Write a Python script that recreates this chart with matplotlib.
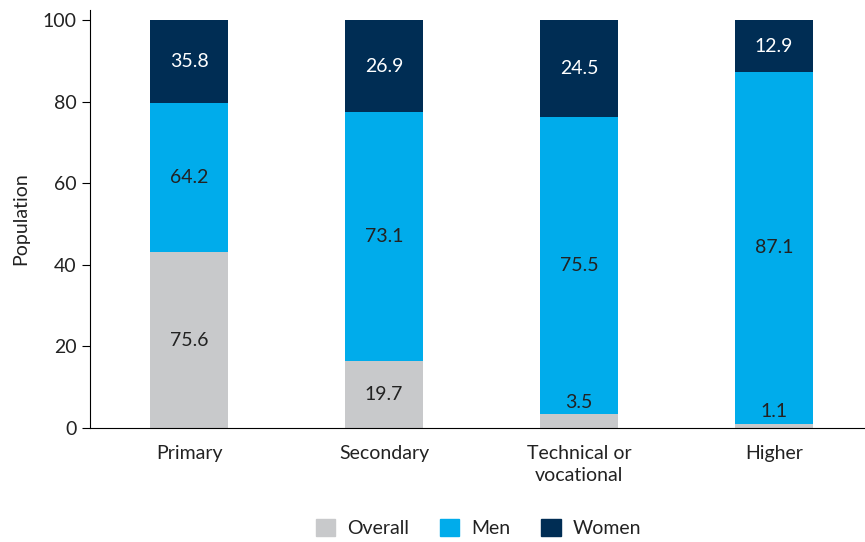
import numpy as np
import matplotlib
matplotlib.use("Agg")
import matplotlib.pyplot as plt
from matplotlib.patches import Patch

plt.rcParams.update({
    "font.family": ["Lato", "DejaVu Sans"],
    "font.weight": "normal",
    "font.size": 14,
    "text.color": "#222222",
    "axes.spines.top": False,
    "axes.spines.right": False,
})

categories = ["Primary", "Secondary", "Technical or\nvocational", "Higher"]
overall = [75.6, 19.7, 3.5, 1.1]
men = [64.2, 73.1, 75.5, 87.1]
women = [35.8, 26.9, 24.5, 12.9]
series_names = ["Overall", "Men", "Women"]
colors = ["#C8C9CB", "#00ACEB", "#002D54"]
text_colors = ["#222222", "#222222", "#FFFFFF"]

# bars are drawn as shares of each group's total, labels show the raw values
vals = np.array([overall, men, women])
shares = vals / vals.sum(axis=0) * 100

fig = plt.figure(figsize=(8.65, 5.42), dpi=100)
ax = fig.add_axes([90 / 865, 1 - 428 / 542, 775 / 865, 418 / 542])
x = np.arange(len(categories))
bottom = np.zeros(len(categories))
for i, name in enumerate(series_names):
    ax.bar(x, shares[i], 0.4, bottom=bottom, color=colors[i], label=name)
    for j in range(len(categories)):
        h = shares[i][j]
        if h < 5:
            ax.text(x[j], bottom[j] + h + 0.8, f"{vals[i][j]:.1f}", ha="center",
                    va="bottom", color=text_colors[i], fontsize=14)
        else:
            ax.text(x[j], bottom[j] + h / 2, f"{vals[i][j]:.1f}", ha="center",
                    va="center", color=text_colors[i], fontsize=14)
    bottom += shares[i]

ax.set_xlim(-0.508, 3.467)
ax.set_ylim(0, 102.5)
ax.set_yticks([0, 20, 40, 60, 80, 100])
ax.set_xticks(x)
ax.set_xticklabels(categories, linespacing=1.35)
ax.tick_params(axis="x", length=0, pad=12, labelsize=14, labelcolor="#222222")
ax.tick_params(axis="y", length=6, labelsize=14, labelcolor="#222222", color="black")
ax.spines["left"].set_color("black")
ax.spines["bottom"].set_color("black")
ax.spines["left"].set_bounds(0, 102.5)
ax.set_ylabel("Population", fontsize=14, labelpad=10, color="#222222")

handles = [Patch(color=c) for c in colors]
fig.legend(handles, series_names, loc="center", bbox_to_anchor=(0.553, 0.026),
           ncol=3, frameon=False, handlelength=1.0, handleheight=1.0,
           columnspacing=1.6, handletextpad=0.6, fontsize=14)

fig.savefig("out.png", dpi=100)
